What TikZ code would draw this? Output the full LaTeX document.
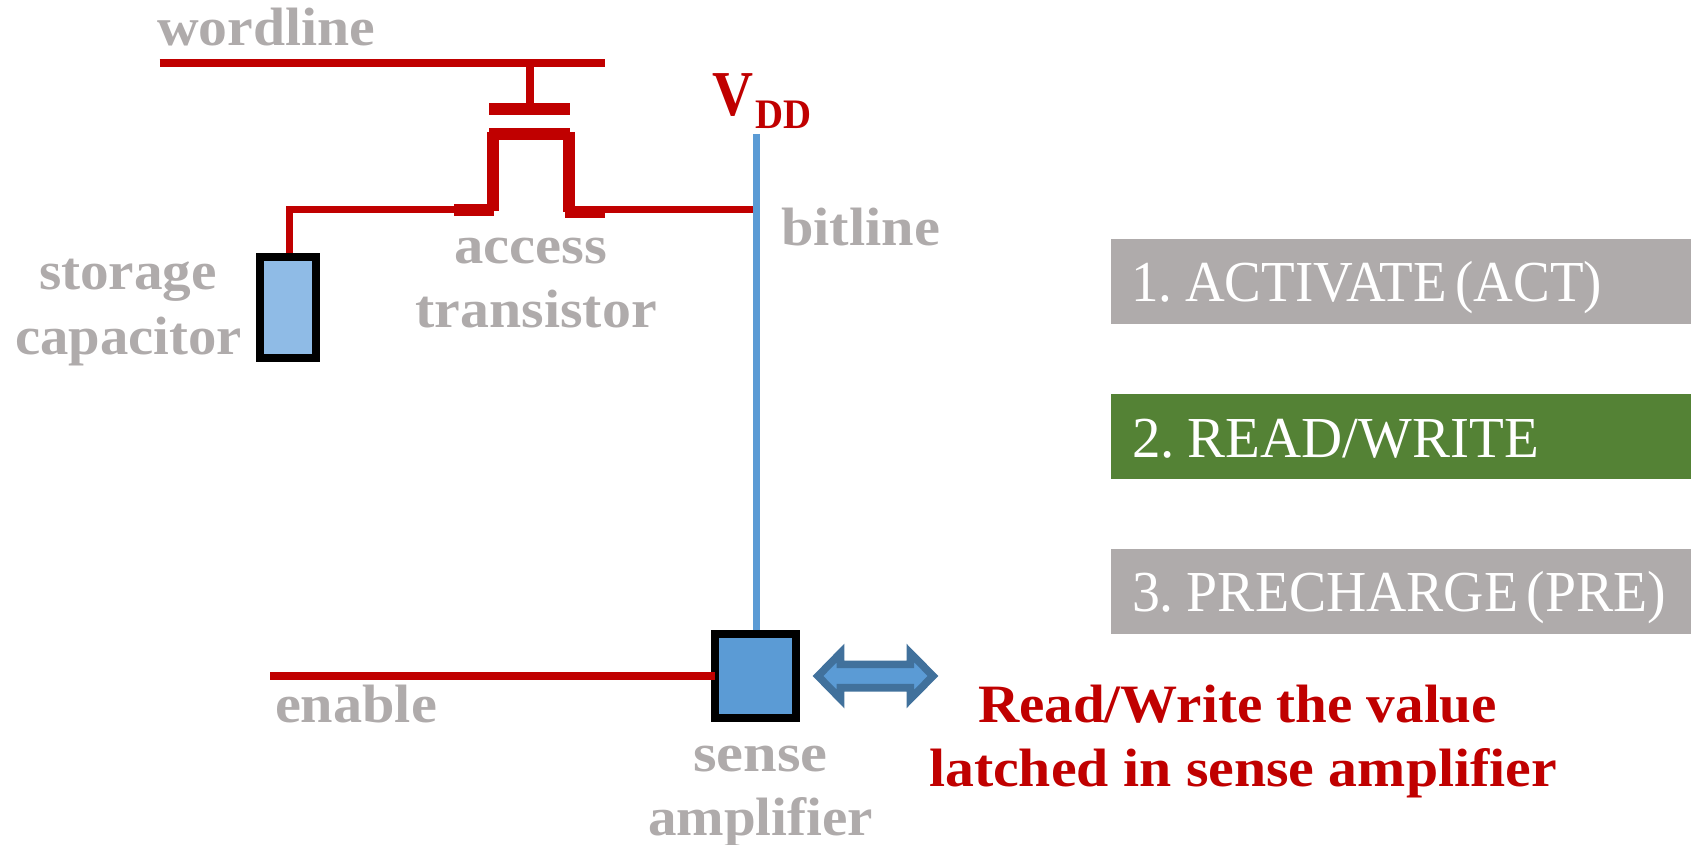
\documentclass[tikz,border=0pt]{standalone}
\usepackage{fontspec}
\usepackage{graphicx}
\setmainfont{Liberation Serif}
\newfontfamily\cmdfont[WordSpace=0.6]{Liberation Serif}
\definecolor{wire}{HTML}{C00000}
\definecolor{lab}{HTML}{AFABAB}
\definecolor{bit}{HTML}{5B9BD5}
\definecolor{capf}{HTML}{8FBBE6}
\definecolor{arrowline}{HTML}{41719C}
\definecolor{grn}{HTML}{548235}
\newcommand{\fw}[2]{\resizebox{\dimexpr #1pt/2\relax}{\height}{#2}}
\tikzset{
  x=0.5pt,y=-0.5pt,
  wirel/.style={draw=wire,line width=3.7pt},
  gatel/.style={draw=wire,line width=6pt},
  tl/.style={anchor=base west,inner sep=0pt,outer sep=0pt},
  grey/.style={tl,text=lab,font=\fontsize{27}{27}\selectfont\bfseries},
  redt/.style={tl,text=wire,font=\fontsize{27}{27}\selectfont\bfseries},
  cmd/.style={tl,text=white,font=\cmdfont\fontsize{29}{29}\selectfont},
  bar/.style={anchor=north west,inner sep=0pt,outer sep=0pt,minimum width=290pt,minimum height=42.5pt},
  blockn/.style={draw=black,line width=4pt,inner sep=0pt,outer sep=0pt},
}
\begin{document}
\begin{tikzpicture}
\useasboundingbox (0,0) rectangle (1691,845);
% coordinates
\coordinate (wlL) at (159.5,63);
\coordinate (wlR) at (605,63);
\coordinate (wlT) at (530,63);
\coordinate (gateT) at (530,103);
\coordinate (gL) at (489.4,108.7);
\coordinate (gR) at (570,108.7);
\coordinate (cL) at (489.4,134.4);
\coordinate (cR) at (570,134.4);
\coordinate (vL) at (493,132);
\coordinate (vLb) at (493,211);
\coordinate (vR) at (568.5,132);
\coordinate (vRb) at (568.5,212);
\coordinate (sL) at (454,210);
\coordinate (sR) at (494,210);
\coordinate (dL) at (565,211.8);
\coordinate (dR) at (605,211.8);
\coordinate (wA) at (454,209.5);
\coordinate (corner) at (289.7,209.5);
\coordinate (bitJ) at (755,209.5);
\coordinate (vdd) at (756.6,134);
\coordinate (enL) at (270,675.8);
% blocks
\node[blockn,fill=capf,minimum width=28.2pt,minimum height=50.25pt,anchor=north west] (cap) at (260,257.5) {};
\node[blockn,fill=bit,minimum width=40.5pt,minimum height=42pt,anchor=north west] (sa) at (715.3,633.7) {};
\coordinate (capTop) at ([yshift=2pt]cap.north);
\coordinate (saTop) at ([yshift=2pt]sa.north);
% wires
\draw[wirel] (wlL) -- (wlR);
\draw[wirel,line width=4pt] (wlT) -- (gateT);
\draw[gatel] (gL) -- (gR);
\draw[gatel] (cL) -- (cR);
\draw[gatel] (vL) -- (vLb);
\draw[gatel] (vR) -- (vRb);
\draw[gatel] (sL) -- (sR);
\draw[gatel] (dL) -- (dR);
\draw[wirel,line join=miter] (wA) -- (corner) -- (corner |- capTop);
\draw[wirel] (dR |- bitJ) -- (bitJ);
\draw[draw=bit,line width=3.75pt] (vdd) -- (vdd |- saTop);
\draw[wirel] (enL) -- (enL -| sa.west);
% double arrow
\draw[draw=arrowline,fill=bit,line width=3.8pt,line join=miter,miter limit=10]
  (818,676) -- (840.5,653) -- (840.5,664.3) -- (910.3,664.3) -- (910.3,653) -- (933,676)
  -- (910.3,699) -- (910.3,687.7) -- (840.5,687.7) -- (840.5,699) -- cycle;
% labels
\node[grey] (wordline) at (157,46) {\fw{218}{wordline}};
\node[grey] (access) at (454,263.3) {\fw{153}{access}};
\node[grey] (transistor) at (415.7,327) {\fw{241}{transistor}};
\node[grey] (storage) at (39,290) {\fw{178}{storage}};
\node[grey] (capacitor) at (15,354) {\fw{226.6}{capacitor}};
\node[grey] (bitline) at (781,246) {\fw{159}{bitline}};
\node[grey] (enable) at (275,722.7) {\fw{162}{enable}};
\node[grey] (sense) at (693.3,771) {\fw{134.4}{sense}};
\node[grey] (amplifier) at (648,835.7) {\fw{225}{amplifier}};
\node[tl,text=wire,font=\fontsize{32}{32}\selectfont\bfseries] (vddV) at (712.6,115.7) {\fw{41}{V}};
\node[tl,text=wire,font=\fontsize{21}{21}\selectfont\bfseries] (vddD) at (755,129) {\fw{56}{DD}};
\node[redt] (rw1) at (978,722.5) {\fw{519}{Read/Write the value}};
\node[redt] (rw2) at (929,786.7) {\fw{628}{latched in sense amplifier}};
% command bars
\node[bar,fill=lab] (b1) at (1111,239) {};
\node[bar,fill=grn] (b2) at (1111,394) {};
\node[bar,fill=lab] (b3) at (1111,549) {};
\node[cmd] (t1) at (1131,301.7) {\fw{471}{1. ACTIVATE (ACT)}};
\node[cmd] (t2) at (1132,457.3) {\fw{407}{2. READ/WRITE}};
\node[cmd] (t3) at (1132,611.7) {\fw{534}{3. PRECHARGE (PRE)}};
\end{tikzpicture}
\end{document}
